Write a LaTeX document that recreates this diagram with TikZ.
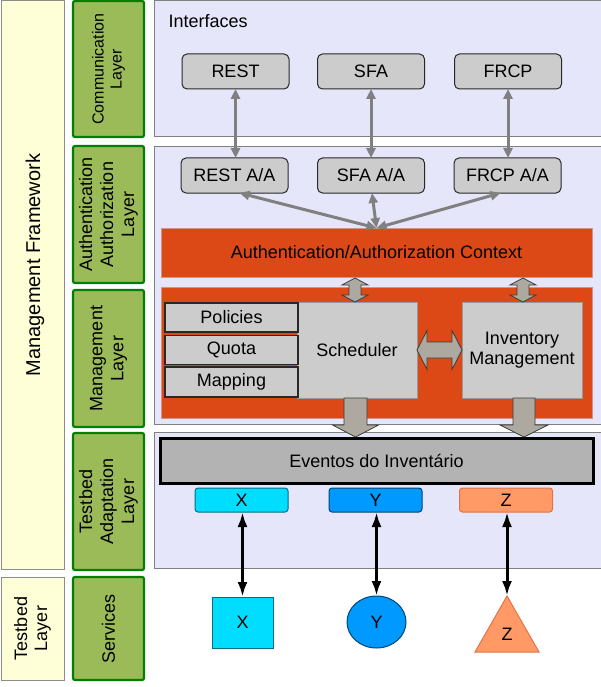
\documentclass[tikz,border=0pt]{standalone}
\usepackage{fontspec}
\setmainfont{Liberation Sans}
\usetikzlibrary{arrows.meta,shapes.geometric}
\definecolor{yfill}{RGB}{255,255,215}
\definecolor{ybord}{RGB}{140,140,140}
\definecolor{gfill}{RGB}{155,187,89}
\definecolor{gbord}{RGB}{0,128,0}
\definecolor{lav}{RGB}{230,230,251}
\definecolor{pbord}{RGB}{128,128,128}
\definecolor{boxgray}{RGB}{204,204,204}
\definecolor{boxbord}{RGB}{40,40,40}
\definecolor{orng}{RGB}{221,73,22}
\definecolor{ctxbord}{RGB}{205,150,140}
\definecolor{agray}{RGB}{128,128,128}
\definecolor{blk}{RGB}{173,169,160}
\definecolor{blkbord}{RGB}{60,60,60}
\definecolor{evgray}{RGB}{179,179,179}
\definecolor{cyanx}{RGB}{0,221,255}
\definecolor{cyanxb}{RGB}{0,110,130}
\definecolor{bluey}{RGB}{0,153,255}
\definecolor{blueyb}{RGB}{0,70,110}
\definecolor{salz}{RGB}{255,153,102}
\definecolor{salzb}{RGB}{225,115,70}
\newcommand{\vdblblock}[3]{%
  \draw[blockarrow] (#1,#2) -- ({#1+13},{#2+7}) -- ({#1+6},{#2+7}) -- ({#1+6},{#3-7}) -- ({#1+13},{#3-7}) -- (#1,#3) -- ({#1-13},{#3-7}) -- ({#1-6},{#3-7}) -- ({#1-6},{#2+7}) -- ({#1-13},{#2+7}) -- cycle;}
\newcommand{\downblock}[6]{%
  \draw[blockarrow] ({#1-#2},#4) -- ({#1+#2},#4) -- ({#1+#2},#5) -- ({#1+#3},#5) -- (#1,#6) -- ({#1-#3},#5) -- ({#1-#2},#5) -- cycle;}
\begin{document}
\begin{tikzpicture}[x=1pt,y=-1pt,
  every node/.style={inner sep=0pt,outer sep=0pt,font=\fontsize{18}{20}\selectfont},
  yellowcol/.style={draw=ybord,fill=yfill,line width=1pt,minimum width=63pt},
  greencol/.style={draw=gbord,fill=gfill,line width=2.2pt,rounded corners=2pt,minimum width=71pt,
    align=center,rotate=90,font=\fontsize{18}{21}\selectfont},
  panel/.style={draw=pbord,fill=lav,line width=1pt,anchor=north west},
  gbox/.style={draw=boxbord,fill=boxgray,line width=1pt,rounded corners=5pt,minimum width=107pt,minimum height=35pt},
  sbox/.style={draw=boxbord,fill=boxgray,line width=1.2pt,minimum width=133pt,minimum height=29pt},
  bigbox/.style={draw=pbord!80,fill=boxgray,line width=0.8pt,minimum width=120pt,minimum height=96pt,align=center},
  orbar/.style={draw=ctxbord,fill=orng,line width=0.8pt,minimum width=431pt},
  garrow/.style={draw=agray,line width=3pt,{Triangle[length=10pt,width=9pt]}-{Triangle[length=10pt,width=9pt]}},
  karrow/.style={draw=black,line width=3pt,{Latex[length=15pt,width=10pt]}-{Latex[length=15pt,width=10pt]}},
  blockarrow/.style={fill=blk,draw=blkbord,line width=0.8pt,line join=miter},
  tbox/.style={line width=1pt,rounded corners=3pt,minimum width=93pt,minimum height=24pt}
]
\useasboundingbox (0,0) rectangle (600,687);

% left yellow column
\node[yellowcol,minimum height=568pt] (mf) at (32.5,285) {};
\node[rotate=90,font=\fontsize{20}{22}\selectfont] (mftext) at (35,265) {Management Framework};
\node[yellowcol,align=center,rotate=90,minimum width=103pt,minimum height=63pt] (tl) at (32.5,628.5) {Testbed\\Layer};

% green column
\node[greencol,minimum width=136pt,minimum height=71pt,font=\fontsize{16}{18}\selectfont] (commL) at (108.5,69) {Communication\\Layer};
\node[greencol,minimum width=137pt,minimum height=71pt] (authL) at (108.5,214.5) {Authentication\\Authorization\\Layer};
\node[greencol,minimum width=137pt,minimum height=71pt] (mgmtL) at (108.5,358.5) {Management\\Layer};
\node[greencol,minimum width=137pt,minimum height=71pt] (tadL) at (108.5,501.5) {Testbed\\Adaptation\\Layer};
\node[greencol,minimum width=103pt,minimum height=71pt] (servL) at (108.5,628.5) {Services};

% panels
\node[panel,minimum width=450pt,minimum height=136pt] (commP) at (154,1) {};
\node[panel,minimum width=450pt,minimum height=277pt] (midP) at (154,147) {};
\node[panel,minimum width=450pt,minimum height=136pt] (botP) at (154,432) {};

\node[anchor=west] (iface) at (168.5,21) {Interfaces};

% communication boxes
\node[gbox] (rest) at (235.5,71.5) {REST};
\node[gbox] (sfa) at (371,71.5) {SFA};
\node[gbox] (frcp) at (508,71.5) {FRCP};
\node[gbox] (restaa) at (234.5,175.5) {REST A/A};
\node[gbox] (sfaaa) at (371,175.5) {SFA A/A};
\node[gbox] (frcpaa) at (507.5,175.5) {FRCP A/A};

% orange bars
\node[orbar,minimum height=49pt] (ctx) at (376.5,252.5) {Authentication/Authorization Context};
\node[orbar,minimum height=131pt] (mgbar) at (376.5,352.5) {};

% management content
\node[bigbox] (sched) at (357,350) {Scheduler};
\node[bigbox] (inv) at (522,350) {Inventory\\Management};
\node[sbox] (pol) at (231.5,317.5) {Policies};
\node[sbox] (quo) at (231.5,350) {Quota};
\node[sbox,minimum height=30pt] (map) at (231.5,382) {Mapping};

% eventos and adapters
\node[draw=black,fill=evgray,line width=3pt,minimum width=433pt,minimum height=45pt] (ev) at (376.5,460.5) {Eventos do Inventário};
\node[tbox,draw=cyanxb,fill=cyanx] (xb) at (241.5,500) {X};
\node[tbox,draw=blueyb,fill=bluey] (yb) at (375.5,500) {Y};
\node[tbox,draw=salzb,fill=salz] (zb) at (506,500) {Z};

% services shapes
\node[draw=cyanxb,fill=cyanx,line width=1pt,minimum width=61pt,minimum height=51pt] (xs) at (242.5,622.5) {X};
\node[ellipse,draw=blueyb,fill=bluey,line width=1pt,minimum width=59pt,minimum height=52pt] (ys) at (376.5,622) {Y};
\coordinate (ztop) at (507,596);
\draw[draw=salzb,fill=salz,line width=1pt,line join=miter] (ztop) -- (539,652) -- (475,652) -- cycle;
\node (zs) at (507,634) {Z};

% gray connectors
\draw[garrow] (rest.south) -- (rest.south |- restaa.north);
\draw[garrow] (sfa.south) -- (sfa.south |- sfaaa.north);
\draw[garrow] (frcp.south) -- (frcp.south |- frcpaa.north);
\coordinate (conv) at (376.5,228);
\draw[garrow] ([xshift=5pt]restaa.south) -- (conv);
\draw[garrow] ([xshift=1pt]sfaaa.south) -- (conv);
\draw[garrow] ([xshift=-7pt]frcpaa.south) -- (conv);

% block arrows
\vdblblock{355}{278}{302}
\vdblblock{523}{278}{302}
\draw[blockarrow] (sched.east) -- (427,330.5) -- (427,342) -- (452,342) -- (452,330.5) -- (inv.west) -- (452,369.5) -- (452,358) -- (427,358) -- (427,369.5) -- cycle;
\downblock{355.5}{11.5}{23}{398}{425}{437}
\downblock{524}{11}{24}{398}{425}{437}

% black connectors
\draw[karrow] (xb.south -| xs.north) -- (xs.north);
\draw[karrow] (yb.south -| ys.north) -- (ys.north);
\draw[karrow] (zb.south -| ztop) -- (ztop);
\end{tikzpicture}
\end{document}
